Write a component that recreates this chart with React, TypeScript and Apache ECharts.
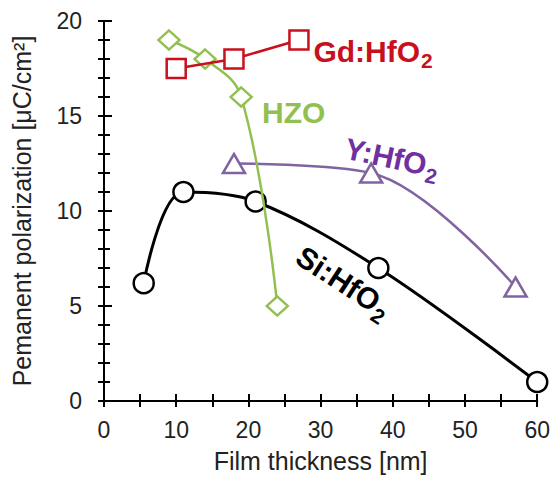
import React, { useEffect, useRef } from "react";
import * as echarts from "echarts";

// Film thickness [nm] and remanent polarization [µC/cm²] per material
const siThickness = [5.5, 11, 21, 38, 60];
const siPr = [6.2, 11.0, 10.5, 7.0, 1.0];
const gdThickness = [10, 18, 27];
const gdPr = [17.5, 18.0, 19.0];
const hzoThickness = [9, 14, 19, 24];
const hzoPr = [19.0, 18.0, 16.0, 5.0];
const yThickness = [18, 37, 57];
const yPr = [12.5, 12.0, 6.0];

const xAxisTitle = "Film thickness [nm]";
const yAxisTitle = "Pemanent polarization [μC/cm²]";

const seriesNames = ["Si:HfO2", "Y:HfO2", "HZO", "Gd:HfO2"];
const labelMain = ["Si:HfO", "Y:HfO", "HZO", "Gd:HfO"];
const labelSub = ["2", "2", "", "2"];

const COLORS = {
  si: "#000000",
  y: "#8064a2",
  yText: "#7030a0",
  hzo: "#92c050",
  gd: "#c8101e",
};

// annotation anchors in data units (layout)
const labelAnchors = [
  { at: [33.2, 6.25], rot: -33, align: "center", color: COLORS.si },
  { at: [39.9, 12.8], rot: -12, align: "center", color: COLORS.yText },
  { at: [21.9, 15.17], rot: 0, align: "left", color: COLORS.hzo },
  { at: [29.0, 18.42], rot: 0, align: "left", color: COLORS.gd },
];

const FONT = "'Liberation Sans', Arial, sans-serif";

const zip = (xs: number[], ys: number[]) => xs.map((x, i) => [x, ys[i]]);

export default function App() {
  const ref = useRef<HTMLDivElement>(null);
  useEffect(() => {
    document.body.style.margin = "0";
    const chart = echarts.init(ref.current!, null, { renderer: "svg" });
    const axisLine = { show: true, lineStyle: { color: "#000", width: 2 } };
    const baseX = {
      type: "value",
      min: 0,
      max: 60,
      interval: 10,
      splitLine: { show: false },
      axisLine,
    };
    const baseY = {
      type: "value",
      min: 0,
      max: 20,
      interval: 5,
      splitLine: { show: false },
      axisLine,
    };
    const markerStyle = (c: string) => ({ color: "#fff", borderColor: c, borderWidth: 2.5 });
    const option: any = {
      animation: false,
      grid: { left: 104, right: 14, top: 21, bottom: 76, containLabel: false },
      xAxis: [
        {
          ...baseX,
          position: "bottom",
          axisTick: { show: true, inside: true, length: 7, lineStyle: { color: "#000", width: 2 } },
          minorTick: { show: true, splitNumber: 2, length: 7, lineStyle: { color: "#000", width: 2 } },
          axisLabel: { fontSize: 23, color: "#222", margin: 17, fontFamily: FONT },
          name: xAxisTitle,
          nameLocation: "middle",
          nameGap: 47,
          nameTextStyle: { fontSize: 25, color: "#222", fontFamily: FONT },
        },
        {
          ...baseX,
          position: "top",
          axisTick: { show: true, inside: true, length: 6, lineStyle: { color: "#000", width: 2 } },
          minorTick: { show: true, splitNumber: 2, length: 6, lineStyle: { color: "#000", width: 2 } },
          axisLabel: { show: false },
        },
      ],
      yAxis: [
        {
          ...baseY,
          position: "left",
          axisTick: { show: true, inside: true, length: 8, lineStyle: { color: "#000", width: 2 } },
          minorTick: { show: true, splitNumber: 5, length: 6, lineStyle: { color: "#000", width: 2 } },
          axisLabel: { fontSize: 23, color: "#222", margin: 22, fontFamily: FONT },
          name: yAxisTitle,
          nameLocation: "middle",
          nameGap: 70,
          nameTextStyle: { fontSize: 25, color: "#222", fontFamily: FONT },
        },
        {
          ...baseY,
          position: "right",
          axisTick: { show: true, inside: true, length: 6, lineStyle: { color: "#000", width: 2 } },
          minorTick: { show: true, splitNumber: 5, length: 6, lineStyle: { color: "#000", width: 2 } },
          axisLabel: { show: false },
        },
      ],
      series: [
        {
          name: seriesNames[0],
          type: "line",
          data: zip(siThickness, siPr),
          smooth: 0.35,
          symbol: "circle",
          symbolSize: 20,
          lineStyle: { color: COLORS.si, width: 3 },
          itemStyle: markerStyle(COLORS.si),
          z: 2,
        },
        {
          name: seriesNames[1],
          type: "line",
          data: zip(yThickness, yPr),
          smooth: 0.35,
          symbol: "triangle",
          symbolSize: [22, 19],
          lineStyle: { color: COLORS.y, width: 2.5 },
          itemStyle: markerStyle(COLORS.y),
          z: 3,
        },
        {
          name: seriesNames[2],
          type: "line",
          data: zip(hzoThickness, hzoPr),
          smooth: 0.4,
          symbol: "diamond",
          symbolSize: [21, 19],
          lineStyle: { color: COLORS.hzo, width: 2.5 },
          itemStyle: markerStyle(COLORS.hzo),
          z: 4,
        },
        {
          name: seriesNames[3],
          type: "line",
          data: zip(gdThickness, gdPr),
          smooth: false,
          symbol: "rect",
          symbolSize: 19,
          lineStyle: { color: COLORS.gd, width: 2.5 },
          itemStyle: markerStyle(COLORS.gd),
          z: 5,
        },
      ],
    };
    chart.setOption(option);

    const graphic = labelAnchors.map((a, i) => {
      const p = chart.convertToPixel({ gridIndex: 0 }, a.at) as number[];
      const txt = labelSub[i] ? `{a|${labelMain[i]}}{s|${labelSub[i]}}` : `{a|${labelMain[i]}}`;
      return {
        type: "text",
        x: p[0],
        y: p[1],
        rotation: (a.rot * Math.PI) / 180,
        z: 100,
        style: {
          text: txt,
          align: a.align,
          verticalAlign: "middle",
          fill: a.color,
          rich: {
            a: { fontSize: 30, fontWeight: "bold", fontFamily: FONT, fill: a.color },
            s: { fontSize: 21, fontWeight: "bold", fontFamily: FONT, fill: a.color, padding: [19, 0, 0, 1] },
          },
        },
      };
    });
    chart.setOption({ graphic });

    return () => chart.dispose();
  }, []);
  return <div ref={ref} style={{ width: 553, height: 478, position: "absolute", left: 0, top: 0 }} />;
}
